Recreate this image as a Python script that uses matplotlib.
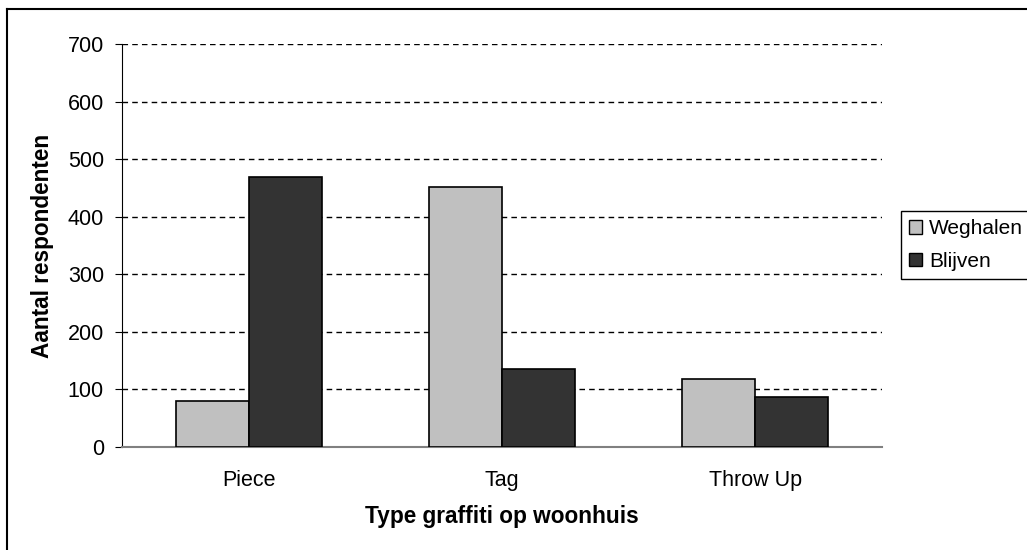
import numpy as np
import matplotlib
matplotlib.use("Agg")
import matplotlib.pyplot as plt
from matplotlib.patches import Patch
from matplotlib.lines import Line2D

# data
categories = ["Piece", "Tag", "Throw Up"]
weghalen = [80, 451, 118]
blijven = [469, 136, 86]
series_names = ["Weghalen", "Blijven"]
yticks = [0, 100, 200, 300, 400, 500, 600, 700]

plt.rcParams['font.family'] = ['Liberation Sans', 'DejaVu Sans']

W, H = 1027, 550
fig = plt.figure(figsize=(W / 100, H / 100), dpi=100)
ax = fig.add_axes([122 / W, 1 - 446.8 / H, (882 - 122) / W, (446.8 - 44.3) / H])

x = np.arange(len(categories))
bw = 0.288
ax.bar(x - bw / 2, weghalen, bw, color="#C0C0C0", edgecolor="black", linewidth=1.2, zorder=3)
ax.bar(x + bw / 2, blijven, bw, color="#333333", edgecolor="black", linewidth=1.2, zorder=3)

# dashed grid lines (not at zero)
for t in yticks[1:]:
    ax.axhline(t, color="black", linestyle=(0, (4, 3)), linewidth=1, zorder=1)

ax.set_xlim(-0.5, len(categories) - 0.5)
ax.set_ylim(0, 700)
ax.set_yticks(yticks)
ax.set_xticks(x)
ax.set_xticklabels(categories)

ax.tick_params(axis="x", length=0, pad=17, labelsize=15.5)
ax.tick_params(axis="y", length=5, width=0.8, pad=8, labelsize=15.5)

for s in ["top", "right"]:
    ax.spines[s].set_visible(False)
ax.spines["bottom"].set_color("#808080")
ax.spines["bottom"].set_linewidth(1.5)
ax.spines["left"].set_linewidth(0.8)

ax.set_xlabel("Type graffiti op woonhuis", fontsize=16.3, fontweight="bold", va="center")
ax.xaxis.set_label_coords(0.5, -0.174)
ax.set_ylabel("Aantal respondenten", fontsize=16.3, fontweight="bold", va="center")
ax.yaxis.set_label_coords(-0.104, 0.5)

handles = [Patch(facecolor="#C0C0C0", edgecolor="black", linewidth=1),
           Patch(facecolor="#333333", edgecolor="black", linewidth=1)]
leg = fig.legend(handles, series_names, loc="upper left",
                 bbox_to_anchor=(901 / W, 1 - 211 / H), fontsize=15,
                 handlelength=0.6, handleheight=0.6, handletextpad=0.35,
                 labelspacing=0.65, borderpad=0.4, borderaxespad=0,
                 fancybox=False, framealpha=1)
leg.get_frame().set_edgecolor("black")
leg.get_frame().set_linewidth(1)

# outer chart border (left and top visible)
fig.add_artist(Line2D([7 / W, 7 / W], [0, 1 - 9 / H], color="black", linewidth=1.5))
fig.add_artist(Line2D([7 / W, 1], [1 - 9 / H, 1 - 9 / H], color="black", linewidth=1.5))

fig.savefig("out.png", dpi=100)
